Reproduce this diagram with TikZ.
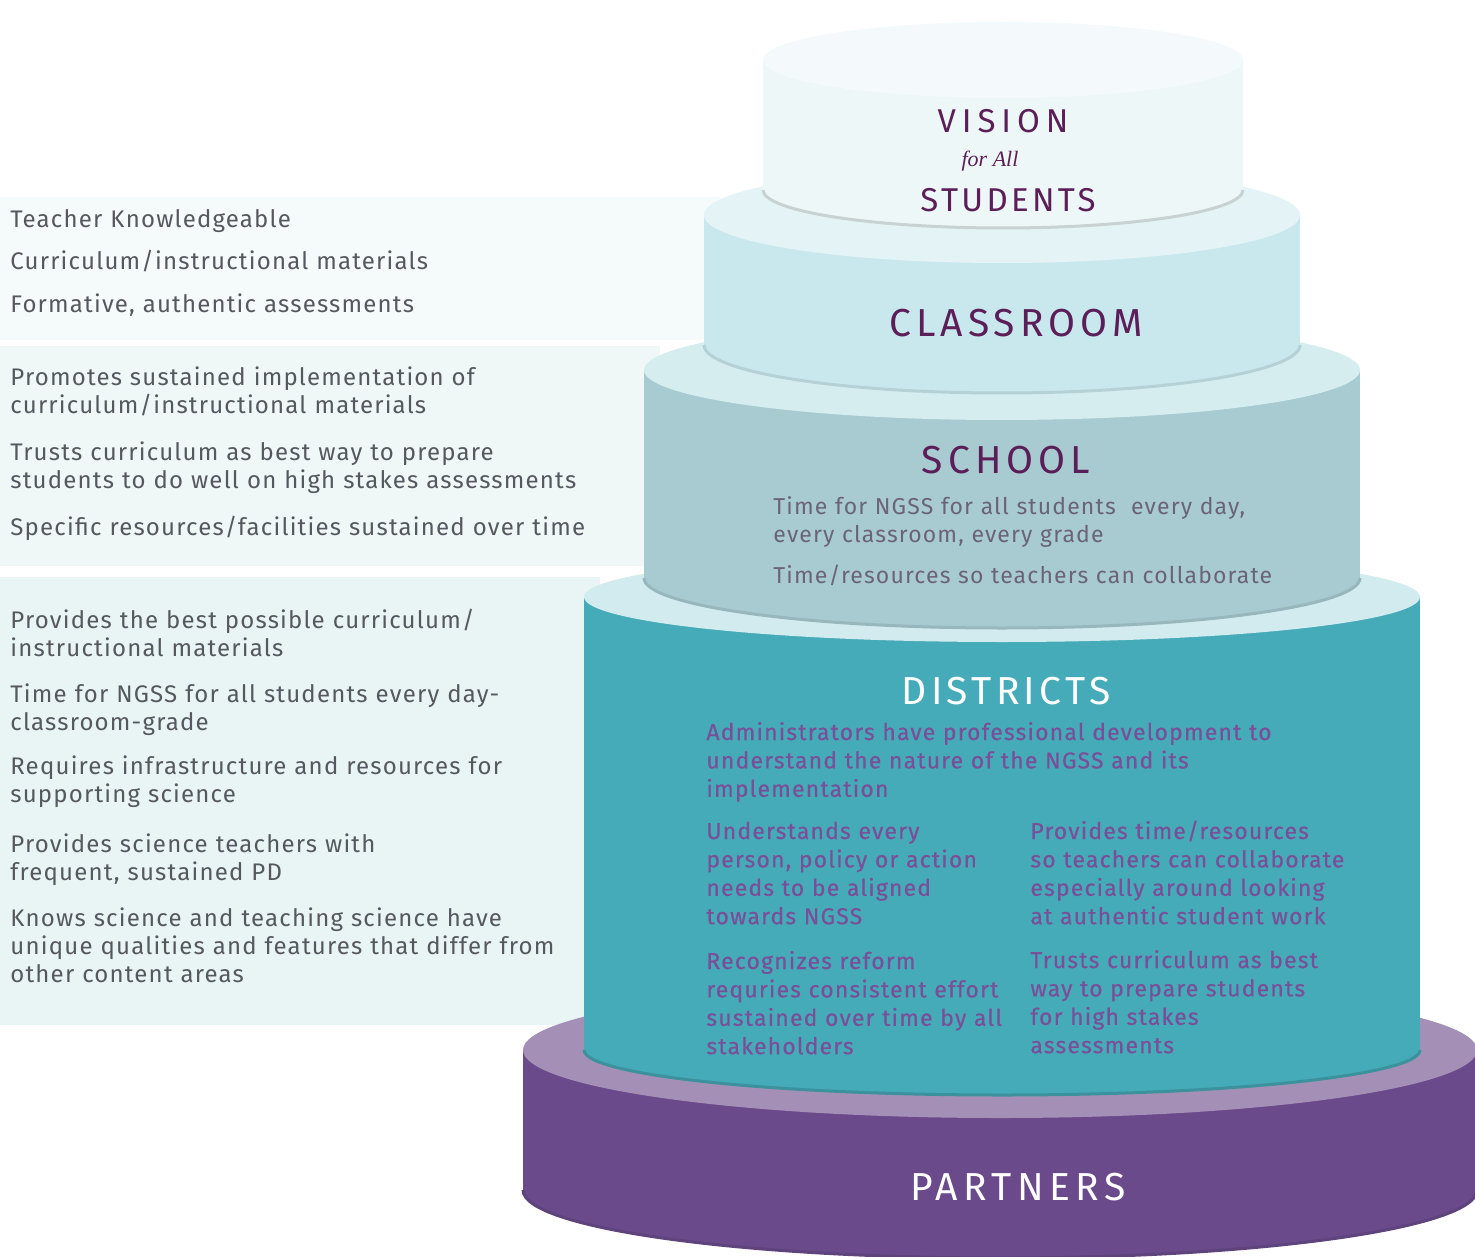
\documentclass[tikz,border=0pt]{standalone}
\usepackage{fontspec}
\setmainfont{Fira Sans}
\newfontfamily\titlefont{Fira Sans}
\newfontfamily\leftfont[LetterSpace=5]{Fira Sans}
\newfontfamily\schoolfont[LetterSpace=5]{Fira Sans}
\newfontfamily\distfont[LetterSpace=5,FakeBold=0.4]{Fira Sans}
\newfontfamily\handfont{Liberation Serif}
\definecolor{plum}{HTML}{5C1E58}
\definecolor{leftgrey}{HTML}{55595F}
\definecolor{schooltext}{HTML}{6B6478}
\definecolor{distext}{HTML}{7A4F9A}
\definecolor{panelA}{HTML}{F5FAFA}
\definecolor{panelB}{HTML}{EFF7F7}
\definecolor{panelC}{HTML}{E9F4F5}
\definecolor{visionside}{HTML}{EDF7F8}
\definecolor{visiontop}{HTML}{F4FAFB}
\definecolor{classside}{HTML}{C9E8ED}
\definecolor{classtop}{HTML}{E4F4F6}
\definecolor{schoolside}{HTML}{A8CBD1}
\definecolor{schooltop}{HTML}{D6EDF0}
\definecolor{distside}{HTML}{45ABB8}
\definecolor{disttop}{HTML}{D2EBEE}
\definecolor{partside}{HTML}{6A4A8A}
\definecolor{parttop}{HTML}{A490B6}
\newcommand\caketier[8]{%
  \fill[#6] (#1-#2,#3) rectangle (#1+#2,#4);
  \fill[#6] (#1,#4) ellipse [x radius=#2, y radius=#5];
  \draw[#8, line width=1.5] (#1-#2,#4) arc [start angle=180, end angle=0, x radius=#2, y radius=#5];
  \fill[#7] (#1,#3) ellipse [x radius=#2, y radius=#5];
}
\begin{document}
\begin{tikzpicture}[x=0.5pt,y=-0.5pt,
  lefttext/.style={anchor=base west, inner sep=0pt, align=left, text width=340pt,
    text=leftgrey, font=\leftfont\fontsize{12}{14}\selectfont},
  schooltxt/.style={anchor=base west, inner sep=0pt, align=left, text width=290pt,
    text=schooltext, font=\schoolfont\fontsize{11.5}{14}\selectfont},
  disttxt/.style={anchor=base west, inner sep=0pt, align=left, text width=320pt,
    text=distext, font=\distfont\fontsize{11.5}{14.2}\selectfont},
  tiertitle/.style={anchor=base, inner sep=0pt,
    font=\titlefont\fontsize{19.5}{22}\selectfont\addfontfeatures{LetterSpace=#1}},
  tiertitle/.default=12,
  smalltitle/.style={anchor=base, inner sep=0pt, text=plum,
    font=\titlefont\fontsize{16.5}{20}\selectfont\addfontfeatures{LetterSpace=#1}}]
\useasboundingbox (0,0) rectangle (1475,1256);
\fill[white] (0,0) rectangle (1475,1256);
% left panels
\fill[panelA] (0,197) rectangle (720,340);
\fill[panelB] (0,346) rectangle (660,566);
\fill[panelC] (0,577) rectangle (600,1025);
% tiers, bottom first
\caketier{1000}{477}{1050}{1190}{68}{partside}{parttop}{partside!90!black}
\caketier{1002}{418}{597}{1050}{45}{distside}{disttop}{distside!85!black}
\caketier{1002}{358}{370}{578}{50}{schoolside}{schooltop}{schoolside!90!black}
\caketier{1002}{298}{215}{345}{48}{classside}{classtop}{classside!90!black}
\caketier{1003}{240}{60}{190}{38}{visionside}{visiontop}{visionside!85!black}
% titles
\node[smalltitle=18] (vision) at (1003,133) {VISION};
\node[anchor=base, inner sep=0pt, text=plum, font=\handfont\itshape\fontsize{11}{12}\selectfont] (forall) at (990,167) {for All};
\node[smalltitle=10] (students) at (1008,212) {STUDENTS};
\node[tiertitle=13, text=plum] (classroom) at (1016,337) {CLASSROOM};
\node[tiertitle=13, text=plum] (school) at (1006,473) {SCHOOL};
\node[tiertitle=11, text=white] (districts) at (1006,704) {DISTRICTS};
\node[tiertitle=14, text=white] (partners) at (1018,1200) {PARTNERS};
% school text
\node[schooltxt] (s1) at (773,514) {Time for NGSS for all students\ \ every day,\\every classroom, every grade};
\node[schooltxt] (s2) at (773,583) {Time/resources so teachers can collaborate};
% district text
\node[disttxt] (d1) at (706,740) {Administrators have professional development to\\understand the nature of the NGSS and its\\implementation};
\node[disttxt] (d2) at (706,839) {Understands every\\person, policy or action\\needs to be aligned\\towards NGSS};
\node[disttxt] (d3) at (1030,839) {Provides time/resources\\so teachers can collaborate\\especially around looking\\at authentic student work};
\node[disttxt] (d4) at (706,969) {Recognizes reform\\requries consistent effort\\sustained over time by all\\stakeholders};
\node[disttxt] (d5) at (1030,968) {Trusts curriculum as best\\way to prepare students\\for high stakes\\assessments};
% left text: classroom
\node[lefttext] (c1) at (10,228) {Teacher Knowledgeable};
\node[lefttext] (c2) at (10,270) {Curriculum/instructional materials};
\node[lefttext] (c3) at (10,313) {Formative, authentic assessments};
% left text: school
\node[lefttext] (p1) at (10,386) {Promotes sustained implementation of\\curriculum/instructional materials};
\node[lefttext] (p2) at (10,460) {Trusts curriculum as best way to prepare\\students to do well on high stakes assessments};
\node[lefttext] (p3) at (10,535) {Specific resources/facilities sustained over time};
% left text: districts
\node[lefttext] (q1) at (10,628) {Provides the best possible curriculum/\\instructional materials};
\node[lefttext] (q2) at (10,702) {Time for NGSS for all students every day-\\classroom-grade};
\node[lefttext] (q3) at (10,774) {Requires infrastructure and resources for\\supporting science};
\node[lefttext] (q4) at (10,852) {Provides science teachers with\\frequent, sustained PD};
\node[lefttext] (q5) at (10,926) {Knows science and teaching science have\\unique qualities and features that differ from\\other content areas};
\end{tikzpicture}
\end{document}
